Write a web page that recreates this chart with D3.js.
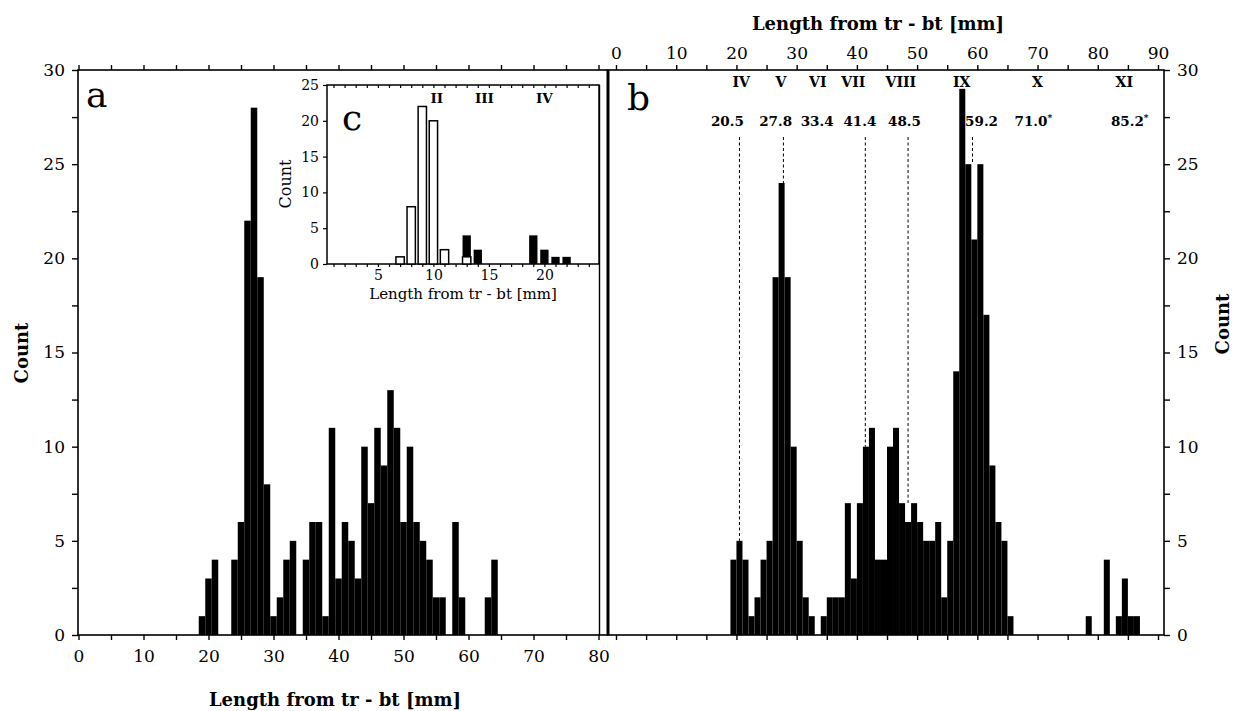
<!DOCTYPE html>
<html>
<head>
<meta charset="utf-8">
<script src="https://cdn.jsdelivr.net/npm/d3@7"></script>
<style>
  body { margin: 0; background: #fff; }
  svg { display: block; }
  text { font-family: "DejaVu Serif", serif; fill: #000; }
</style>
</head>
<body>
<svg id="chart" width="1233" height="711"></svg>
<script>

// panel a : counts per 1 mm class
const binsA = d3.range(19, 65)
const countsA = [1,3,4,0,0, 4,6,22,28,19, 8,1,2,4,5, 0,4,6,6,1, 11,3,6,5,3, 10,7,11,9,13, 11,6,10,6,5, 4,2,2,0,6, 2,0,0,0,2, 4]

// panel b : counts per 1 mm class
const binsB = d3.range(19, 87)
const countsB = [4,5,4,1,2, 4,5,19,24,19, 10,5,2,1,0, 1,2,2,2,7, 3,7,10,11,4, 4,10,11,7,6,
  7,6,5,5,6, 2,5,14,29,25, 21,25,17,9,6, 5,1,0,0,0, 0,0,0,0,0,0,0,0,0, 1,0,0,4,0, 1,3,1,1]

// inset c : open and filled classes
const openBins = [7, 8, 9, 10, 11, 13]
const openCounts = [1, 8, 22, 20, 2, 1]
const filledBins = [13, 14, 19, 20, 21, 22]
const filledCounts = [4, 2, 4, 2, 1, 1]
const insetStages = ['II', 'III', 'IV']
const insetStageAt = [10.3, 14.6, 20]

// instar labels of panel b
const stages = ['IV', 'V', 'VI', 'VII', 'VIII', 'IX', 'X', 'XI']
const stageAt = [20.8, 27.4, 33.5, 39.4, 47.3, 57.4, 70, 84.4]
const means = ['20.5', '27.8', '33.4', '41.4', '48.5', '59.2', '71.0', '85.2']
const meanStar = [false, false, false, false, false, false, true, true]
const meanAt = [18.5, 26.5, 33.4, 40.5, 47.9, 60.7, 69.3, 85.3]
const dashedAt = [20.5, 27.8, 41.4, 48.5, 59.2]

const yTicks = d3.range(0, 31, 2.5)

let svg = d3.select('#chart')

let plotTop = 70, plotBottom = 635
let y = d3.scaleLinear().domain([0, 30]).range([plotBottom, plotTop])
let xa = d3.scaleLinear().domain([0, 80]).range([78.5, 598.5])
let xb = d3.scaleLinear().domain([0, 90]).range([616, 1158])
let xc = d3.scaleLinear().domain([0, 5]).range([322.4, 377.9])
let yc = d3.scaleLinear().domain([0, 25]).range([264, 85])

function noDomain(g) { g.select('.domain').remove() }

// frames
svg.append('rect')
  .attr('x', 78).attr('y', plotTop).attr('width', 530).attr('height', plotBottom - plotTop)
  .attr('fill', 'none').attr('stroke', '#000').attr('stroke-width', 1.6)
svg.append('rect')
  .attr('x', 608).attr('y', plotTop).attr('width', 556).attr('height', plotBottom - plotTop)
  .attr('fill', 'none').attr('stroke', '#000').attr('stroke-width', 1.6)
svg.append('line')
  .attr('x1', 608).attr('x2', 608).attr('y1', plotTop).attr('y2', plotBottom)
  .attr('stroke', '#000').attr('stroke-width', 3)
svg.append('line')
  .attr('x1', 599.5).attr('x2', 599.5).attr('y1', 85).attr('y2', plotBottom)
  .attr('stroke', '#000').attr('stroke-width', 1.4)

// panel a bars
svg.append('g')
  .selectAll('rect')
  .data(binsA.map((b, i) => ({ b: b, c: countsA[i] })).filter(d => d.c > 0))
  .enter().append('rect')
  .attr('x', d => xa(d.b - 0.5))
  .attr('width', d => xa(d.b + 0.5) - xa(d.b - 0.5))
  .attr('y', d => y(d.c))
  .attr('height', d => plotBottom - y(d.c))
  .attr('fill', '#000')

// panel b bars
svg.append('g')
  .selectAll('rect')
  .data(binsB.map((b, i) => ({ b: b, c: countsB[i] })).filter(d => d.c > 0))
  .enter().append('rect')
  .attr('x', d => xb(d.b))
  .attr('width', d => xb(d.b + 1) - xb(d.b))
  .attr('y', d => y(d.c))
  .attr('height', d => plotBottom - y(d.c))
  .attr('fill', '#000')

// axes of panel a
svg.append('g')
  .attr('transform', 'translate(78,0)')
  .call(d3.axisLeft(y).tickValues(yTicks).tickSize(6).tickPadding(7)
    .tickFormat(d => d % 5 ? '' : d))
  .call(noDomain)

svg.append('g')
  .attr('transform', `translate(0,${plotBottom})`)
  .call(d3.axisBottom(xa).tickValues(d3.range(0, 81, 5)).tickSize(5).tickPadding(10)
    .tickFormat(d => d % 10 ? '' : d))
  .call(noDomain)

svg.append('g')
  .attr('transform', `translate(0,${plotTop})`)
  .call(d3.axisTop(xa).tickValues(d3.range(0, 81, 5)).tickSize(5).tickFormat(''))
  .call(noDomain)

// axes of panel b
svg.append('g')
  .attr('transform', `translate(0,${plotTop})`)
  .call(d3.axisTop(xb).tickValues(d3.range(0, 91, 5)).tickSize(5).tickPadding(6)
    .tickFormat(d => d % 10 ? '' : d))
  .call(noDomain)

svg.append('g')
  .attr('transform', `translate(0,${plotBottom})`)
  .call(d3.axisBottom(xb).tickValues(d3.range(0, 91, 5)).tickSize(5).tickFormat(''))
  .call(noDomain)

svg.append('g')
  .attr('transform', 'translate(1164,0)')
  .call(d3.axisRight(y).tickValues(yTicks).tickSize(6).tickPadding(7)
    .tickFormat(d => d % 5 ? '' : d))
  .call(noDomain)

svg.selectAll('.tick text').attr('font-size', 17).attr('font-family', '"DejaVu Serif", serif')
svg.selectAll('.tick line').attr('stroke-width', 1.4)

// dashed guide lines and instar labels of panel b
function barTop(v) {
  let i = binsB.indexOf(Math.floor(v))
  return Math.max(countsB[i], countsB[i - 1])
}

svg.append('g')
  .selectAll('line')
  .data(dashedAt)
  .enter().append('line')
  .attr('x1', d => xb(d)).attr('x2', d => xb(d))
  .attr('y1', 137)
  .attr('y2', d => y(barTop(d)))
  .attr('stroke', '#000').attr('stroke-width', 1)
  .attr('stroke-dasharray', '3,2.5')

svg.append('g')
  .selectAll('text')
  .data(stages)
  .enter().append('text')
  .attr('x', (d, i) => xb(stageAt[i]))
  .attr('y', 87)
  .attr('text-anchor', 'middle')
  .attr('font-size', 14)
  .attr('font-weight', 'bold')
  .text(d => d)

let meanText = svg.append('g')
  .selectAll('text')
  .data(means)
  .enter().append('text')
  .attr('x', (d, i) => xb(meanAt[i]))
  .attr('y', 126)
  .attr('text-anchor', 'middle')
  .attr('font-size', 13.5)
  .attr('font-weight', 'bold')
  .text(d => d)

meanText.filter((d, i) => meanStar[i])
  .append('tspan')
  .attr('font-size', 9)
  .attr('dy', -5)
  .text('*')

// inset c
let inset = svg.append('g')

inset.append('rect')
  .attr('x', 327).attr('y', 85).attr('width', 272).attr('height', 179)
  .attr('fill', '#fff').attr('stroke', '#000').attr('stroke-width', 1.5)

let barW = xc(0.75) - xc(0)

inset.append('g')
  .selectAll('rect')
  .data(filledBins.map((b, i) => ({ b: b, c: filledCounts[i] })))
  .enter().append('rect')
  .attr('x', d => xc(d.b) - barW / 2)
  .attr('width', barW)
  .attr('y', d => yc(d.c))
  .attr('height', d => 264 - yc(d.c))
  .attr('fill', '#000')

inset.append('g')
  .selectAll('rect')
  .data(openBins.map((b, i) => ({ b: b, c: openCounts[i] })))
  .enter().append('rect')
  .attr('x', d => xc(d.b) - barW / 2)
  .attr('width', barW)
  .attr('y', d => yc(d.c))
  .attr('height', d => 264 - yc(d.c))
  .attr('fill', '#fff')
  .attr('stroke', '#000')
  .attr('stroke-width', 1.5)

inset.append('g')
  .attr('transform', 'translate(327,0)')
  .call(d3.axisLeft(yc).tickValues([0, 5, 10, 15, 20, 25]).tickSize(4).tickPadding(4))
  .call(noDomain)

inset.append('g')
  .attr('transform', 'translate(0,264)')
  .call(d3.axisBottom(xc).tickValues(d3.range(1, 25)).tickSize(3).tickPadding(3)
    .tickFormat(d => d % 5 ? '' : d))
  .call(noDomain)

inset.append('g')
  .attr('transform', 'translate(0,85)')
  .call(d3.axisBottom(xc).tickValues(d3.range(1, 25)).tickSize(3).tickFormat(''))
  .call(noDomain)

inset.selectAll('.tick text').attr('font-size', 14).attr('font-family', '"DejaVu Serif", serif')
inset.selectAll('.tick line').attr('stroke-width', 1.2)

inset.append('g')
  .selectAll('text')
  .data(insetStages)
  .enter().append('text')
  .attr('x', (d, i) => xc(insetStageAt[i]))
  .attr('y', 103)
  .attr('text-anchor', 'middle')
  .attr('font-size', 13.5)
  .attr('font-weight', 'bold')
  .text(d => d)

inset.append('text')
  .attr('transform', 'translate(291,184) rotate(-90)')
  .attr('text-anchor', 'middle')
  .attr('font-size', 16)
  .text('Count')

inset.append('text')
  .attr('x', 463).attr('y', 299)
  .attr('text-anchor', 'middle')
  .attr('font-size', 15)
  .text('Length from tr - bt [mm]')

// panel letters
let letters = [['a', 86, 107], ['b', 627, 110], ['c', 342, 130]]
svg.append('g')
  .selectAll('text')
  .data(letters)
  .enter().append('text')
  .attr('x', d => d[1])
  .attr('y', d => d[2])
  .attr('font-family', '"Liberation Sans", Arial, sans-serif')
  .attr('font-size', 36)
  .text(d => d[0])

// titles
svg.append('text')
  .attr('x', 878).attr('y', 30)
  .attr('text-anchor', 'middle')
  .attr('font-size', 18).attr('font-weight', 'bold')
  .text('Length from tr - bt [mm]')

svg.append('text')
  .attr('x', 335).attr('y', 706)
  .attr('text-anchor', 'middle')
  .attr('font-size', 18).attr('font-weight', 'bold')
  .text('Length from tr - bt [mm]')

svg.append('text')
  .attr('transform', 'translate(28,353) rotate(-90)')
  .attr('text-anchor', 'middle')
  .attr('font-size', 18).attr('font-weight', 'bold')
  .text('Count')

svg.append('text')
  .attr('transform', 'translate(1229,324) rotate(-90)')
  .attr('text-anchor', 'middle')
  .attr('font-size', 18).attr('font-weight', 'bold')
  .text('Count')

</script>
</body>
</html>
